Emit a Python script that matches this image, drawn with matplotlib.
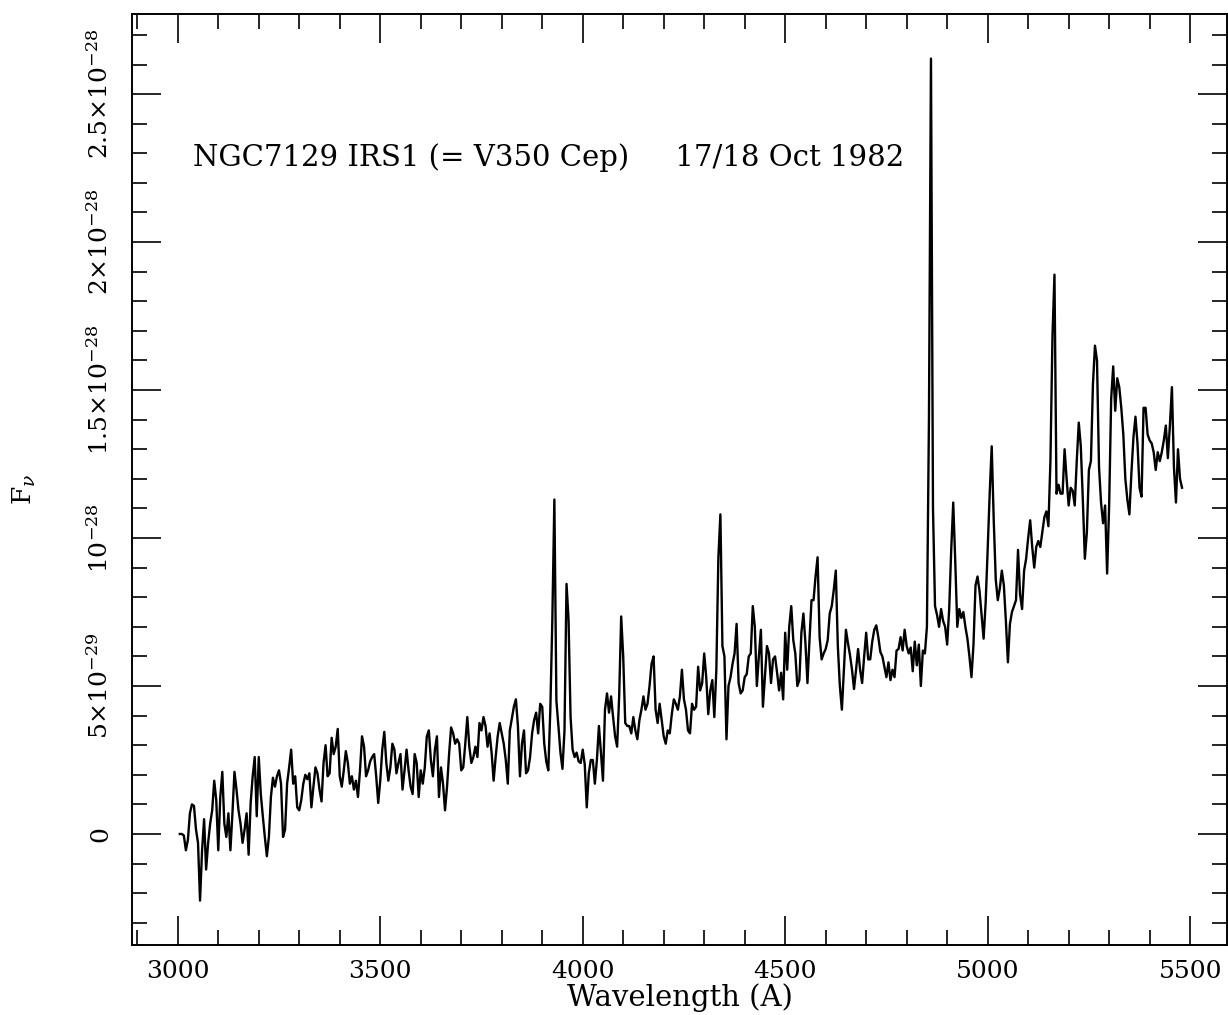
import numpy as np
import matplotlib
matplotlib.use("Agg")
import matplotlib.pyplot as plt
from matplotlib.ticker import MultipleLocator, FixedLocator, FixedFormatter

# ------------------------
# Spectrum: NGC7129 IRS1, sampled every 5 A from 3005 A
# flux in units of 1e-29 (F_nu)
# ------------------------
wave_start = 3005.0
wave_step = 5.0

flux_uv = [  # 3005 - 3720 A
    0.0, 0.0, -0.05, -0.55, -0.2, 0.7, 1.0, 0.95, 0.15, -0.3,
    -2.25, -0.55, 0.5, -1.2, -0.3, 0.35, 0.8, 1.8, 1.15, -0.55,
    1.25, 2.1, 0.35, -0.1, 0.7, -0.55, 0.7, 2.1, 1.5, 0.8,
    0.35, -0.3, 0.15, 0.7, -0.7, 1.05, 1.95, 2.6, 0.6, 2.6,
    1.35, 0.6, -0.1, -0.75, -0.1, 1.25, 1.9, 1.6, 1.95, 2.15,
    1.7, -0.1, 0.15, 1.7, 2.25, 2.85, 1.7, 1.95, 0.9, 0.8,
    1.15, 1.7, 2.0, 1.85, 2.05, 0.9, 1.6, 2.25, 2.05, 1.5,
    1.1, 2.4, 3.0, 1.95, 2.05, 3.25, 2.7, 2.95, 3.55, 1.95,
    1.6, 2.15, 2.8, 2.4, 1.7, 1.95, 1.5, 1.8, 1.25, 2.15,
    3.3, 2.95, 1.95, 2.15, 2.45, 2.6, 2.7, 1.95, 1.05, 1.8,
    2.85, 3.45, 2.4, 1.8, 2.25, 3.05, 2.85, 2.05, 2.4, 2.7,
    1.5, 2.15, 2.85, 2.15, 1.6, 1.35, 2.7, 2.4, 1.25, 2.15,
    1.7, 2.25, 3.3, 3.5, 2.5, 1.95, 2.85, 3.3, 1.25, 2.25,
    1.7, 0.8, 1.6, 2.7, 3.6, 3.4, 3.05, 3.2, 3.05, 2.15,
    2.25, 3.05, 3.95, 2.95,
]
flux_blue = [  # 3725 - 4410 A (Ca II H+K, Hd, Hg)
    2.4, 2.6, 2.95, 2.6, 3.75, 3.5, 3.95, 3.65, 2.95, 3.4,
    2.75, 1.8, 2.6, 3.3, 3.75, 3.4, 3.05, 2.5, 1.7, 3.5,
    3.9, 4.3, 4.55, 3.65, 1.95, 3.05, 3.5, 2.05, 2.15, 2.6,
    3.4, 3.85, 4.1, 3.4, 4.4, 4.3, 3.05, 2.45, 2.15, 4.2,
    7.25, 11.3, 4.5, 3.65, 2.75, 2.2, 3.5, 8.45, 7.25, 3.95,
    2.85, 2.6, 2.75, 2.45, 2.4, 2.85, 2.35, 0.9, 2.05, 2.5,
    2.5, 1.7, 2.5, 3.65, 2.75, 1.8, 4.2, 4.75, 4.1, 4.65,
    3.95, 3.3, 2.95, 4.65, 7.35, 6.0, 3.75, 3.65, 3.65, 3.4,
    3.95, 3.5, 3.2, 3.85, 4.2, 4.65, 4.2, 4.4, 5.0, 5.75,
    6.0, 4.2, 3.75, 4.4, 3.85, 3.3, 3.05, 3.5, 3.4, 4.05,
    4.55, 4.4, 4.2, 4.65, 5.55, 4.55, 4.2, 3.5, 3.4, 4.4,
    4.2, 4.3, 5.65, 4.85, 5.1, 6.1, 5.3, 4.05, 4.85, 5.2,
    3.95, 5.55, 9.35, 10.8, 6.35, 6.0, 3.2, 5.0, 5.3, 5.75,
    6.1, 7.1, 5.1, 4.75, 4.85, 5.3, 5.4, 6.0,
]
flux_green = [  # 4415 - 4805 A
    6.1, 7.7, 7.0, 5.0, 6.0, 6.9, 4.3, 5.3, 6.35, 6.1,
    5.1, 5.9, 6.0, 5.45, 4.85, 5.45, 4.55, 6.8, 5.55, 7.0,
    7.7, 6.55, 6.1, 5.0, 5.2, 6.8, 7.45, 6.45, 5.1, 6.55,
    7.9, 7.9, 8.7, 9.35, 6.65, 5.9, 6.1, 6.25, 6.55, 7.45,
    7.7, 8.25, 8.9, 6.35, 5.0, 4.2, 5.55, 6.9, 6.45, 6.05,
    5.55, 4.9, 5.55, 6.25, 5.55, 5.1, 6.0, 6.8, 5.9, 5.9,
    6.5, 6.9, 7.05, 6.65, 6.15, 6.0, 5.65, 5.3, 5.8, 5.2,
    5.55, 5.3, 6.2, 6.25, 6.65, 6.2, 6.9, 6.35, 6.1,
]
flux_hbeta = [  # 4810 - 5050 A (Hb, Fe II)
    6.3, 5.5, 6.5, 5.7, 6.4, 5.0, 6.2, 6.1, 7.0, 14.0,
    26.2, 11.0, 7.7, 7.4, 7.0, 7.6, 7.2, 7.0, 6.4, 7.6,
    9.6, 11.2, 9.2, 7.0, 7.6, 7.3, 7.5, 7.0, 6.6, 6.0,
    5.3, 6.4, 8.4, 8.7, 8.2, 7.4, 6.6, 7.8, 9.6, 11.5,
    13.1, 10.6, 8.6, 7.9, 8.3, 8.9, 8.4, 7.2, 5.8,
]
flux_red = [  # 5055 - 5275 A (Mg I b)
    7.1, 7.5, 7.7, 7.9, 9.6, 8.1, 7.6, 8.9, 9.3, 10.0,
    10.6, 9.7, 9.0, 9.7, 9.9, 9.7, 10.2, 10.7, 10.9, 10.4,
    12.6, 16.8, 18.9, 11.5, 11.8, 11.5, 11.5, 13.0, 12.0, 11.1,
    11.7, 11.6, 11.1, 12.6, 13.9, 13.1, 11.3, 9.3, 10.2, 12.3,
    12.6, 15.2, 16.5, 16.0, 12.4,
]
flux_end = [  # 5280 - 5480 A
    11.2, 10.5, 11.1, 8.8, 11.1, 14.7, 15.8, 14.3, 15.4, 15.1,
    14.4, 13.5, 12.0, 11.3, 10.8, 12.2, 13.4, 14.1, 13.2, 11.7,
    11.4, 14.4, 14.4, 13.5, 13.3, 13.2, 12.9, 12.3, 12.9, 12.6,
    12.9, 13.3, 13.8, 12.7, 13.8, 15.1, 12.4, 11.2, 13.0, 12.0,
    11.7,
]

ytick_values = [0, 5e-29, 1e-28, 1.5e-28, 2e-28, 2.5e-28]
ytick_labels = ["0", r"$5{\times}10^{-29}$", r"$10^{-28}$",
                r"$1.5{\times}10^{-28}$", r"$2{\times}10^{-28}$",
                r"$2.5{\times}10^{-28}$"]

title_text = "NGC7129 IRS1 (= V350 Cep)     17/18 Oct 1982"

flux = np.array(flux_uv + flux_blue + flux_green + flux_hbeta
                + flux_red + flux_end) * 1e-29
wave = wave_start + wave_step * np.arange(len(flux))

# ------------------------
# Plot
# ------------------------
plt.rcParams['font.family'] = ['DejaVu Serif']
plt.rcParams['mathtext.fontset'] = 'dejavuserif'

fig = plt.figure(figsize=(12.28, 10.15), dpi=100)
ax = fig.add_axes([0.1075, 0.069, 0.892, 0.917])

ax.plot(wave, flux, color='black', lw=1.7)

ax.set_xlim(2887, 5592)
ax.set_ylim(-3.75e-29, 2.77e-28)

ax.xaxis.set_major_locator(MultipleLocator(500))
ax.xaxis.set_minor_locator(MultipleLocator(100))
ax.yaxis.set_major_locator(FixedLocator(ytick_values))
ax.yaxis.set_major_formatter(FixedFormatter(ytick_labels))
ax.yaxis.set_minor_locator(MultipleLocator(1e-29))

ax.tick_params(which='both', direction='in', top=True, right=True,
               width=1.2, labelsize=18)
ax.tick_params(which='major', length=21)
ax.tick_params(which='minor', length=10.5)
ax.tick_params(axis='x', pad=11)
ax.tick_params(axis='y', pad=14, labelrotation=90)
for lbl in ax.get_yticklabels():
    lbl.set_va('center')

for sp in ax.spines.values():
    sp.set_linewidth(1.4)

ax.text(3038, 2.284e-28, title_text, fontsize=21, va='center', ha='left')

ax.set_xlabel("Wavelength (A)", fontsize=21, labelpad=0)
ax.set_ylabel(r"F$_\nu$", fontsize=19)
ax.yaxis.set_label_coords(-0.086, 0.49)

fig.savefig("out.png", dpi=100)
